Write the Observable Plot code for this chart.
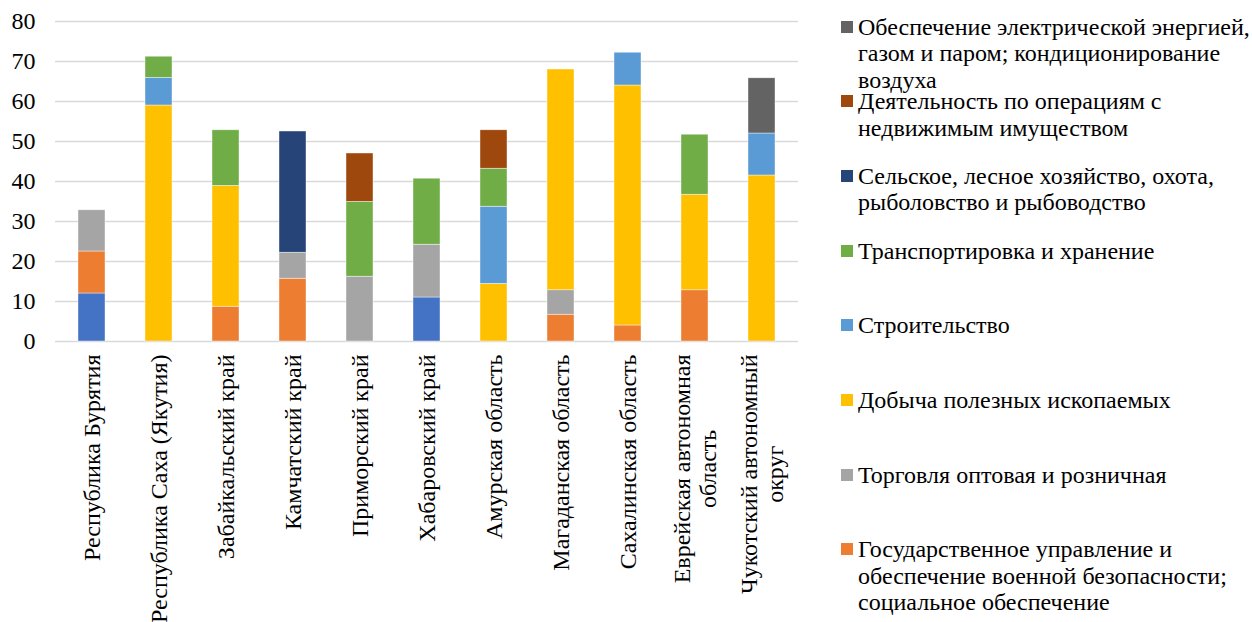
<!DOCTYPE html>
<html>
<head>
<meta charset="utf-8">
<script src="https://cdn.jsdelivr.net/npm/d3@7"></script>
<script src="https://cdn.jsdelivr.net/npm/@observablehq/plot@0.6"></script>
<style>
  html, body { margin: 0; padding: 0; background: #fff; }
  #wrap { position: relative; width: 1252px; height: 622px; overflow: hidden; font-family: "Liberation Serif", "Times New Roman", serif; }
  #chart { position: absolute; left: 0; top: 0; }
  #legend { position: absolute; left: 841px; top: 0; width: 411px; height: 622px; }
  .item { position: absolute; left: 0; display: flex; align-items: flex-start; font-size: 24px; line-height: 26.5px; color: #000; white-space: nowrap; }
  .sw { width: 12px; height: 12px; margin-top: 7px; margin-right: 5px; flex: none; }
</style>
</head>
<body>
<div id="wrap">
  <div id="chart"></div>
  <div id="legend"></div>
</div>
<script>
// Categories (regions), bottom-axis tick labels
const regions = [
  "Республика Бурятия",
  "Республика Саха (Якутия)",
  "Забайкальский край",
  "Камчатский край",
  "Приморский край",
  "Хабаровский край",
  "Амурская область",
  "Магаданская область",
  "Сахалинская область",
  "Еврейская автономная\nобласть",
  "Чукотский автономный\nокруг"
];

// Series, stacked from bottom to top
const series = [
  "Обрабатывающие производства",
  "Государственное управление и обеспечение военной безопасности; социальное обеспечение",
  "Торговля оптовая и розничная",
  "Добыча полезных ископаемых",
  "Строительство",
  "Транспортировка и хранение",
  "Сельское, лесное хозяйство, охота, рыболовство и рыбоводство",
  "Деятельность по операциям с недвижимым имуществом",
  "Обеспечение электрической энергией, газом и паром; кондиционирование воздуха"
];

// Legend labels (as shown, with line breaks), top to bottom
const legendLabels = [
  "Обеспечение электрической энергией,\nгазом и паром; кондиционирование\nвоздуха",
  "Деятельность по операциям с\nнедвижимым имуществом",
  "Сельское, лесное хозяйство, охота,\nрыболовство и рыбоводство",
  "Транспортировка и хранение",
  "Строительство",
  "Добыча полезных ископаемых",
  "Торговля оптовая и розничная",
  "Государственное управление и\nобеспечение военной безопасности;\nсоциальное обеспечение"
];
const legendSeriesIndex = [8, 7, 6, 5, 4, 3, 2, 1];

const colors = ["#4472C4", "#ED7D31", "#A5A5A5", "#FFC000", "#5B9BD5", "#70AD47", "#264478", "#9E480E", "#636363"];

// Values per series, one per region (order as regions)
const manufacturing = [12, 0, 0, 0, 0, 11, 0, 0, 0, 0, 0];
const government    = [10.5, 0, 8.7, 15.7, 0, 0, 0, 6.7, 4, 12.8, 0];
const trade         = [10.3, 0, 0, 6.5, 16.2, 13.2, 0, 6.1, 0, 0, 0];
const mining        = [0, 59, 30.2, 0, 0, 0, 14.4, 55.2, 60, 23.9, 41.5];
const construction  = [0, 6.9, 0, 0, 0, 0, 19.3, 0, 8.2, 0, 10.5];
const transport     = [0, 5.3, 13.9, 0, 18.7, 16.5, 9.5, 0, 0, 15, 0];
const agriculture   = [0, 0, 0, 30.3, 0, 0, 0, 0, 0, 0, 0];
const realEstate    = [0, 0, 0, 0, 12.1, 0, 9.6, 0, 0, 0, 0];
const energy        = [0, 0, 0, 0, 0, 0, 0, 0, 0, 0, 13.8];

const yTicks = [0, 10, 20, 30, 40, 50, 60, 70, 80];

const seriesValues = [manufacturing, government, trade, mining, construction, transport, agriculture, realEstate, energy];

const data = [];
seriesValues.forEach((vals, si) => {
  vals.forEach((v, ri) => {
    if (v > 0) data.push({region: regions[ri], series: series[si], value: v});
  });
});

const serifStack = "'Liberation Serif', 'Times New Roman', serif";

const chart = Plot.plot({
  width: 820,
  height: 622,
  marginTop: 21,
  marginBottom: 281,
  marginLeft: 55,
  marginRight: 22,
  style: {fontFamily: serifStack, fontSize: "24px", color: "#000", background: "#fff", overflow: "visible"},
  x: {domain: regions, paddingInner: 0.6, paddingOuter: 0.3, label: null},
  y: {domain: [0, 80], ticks: yTicks, label: null},
  color: {domain: series, range: colors},
  marks: [
    Plot.gridY(yTicks, {stroke: "#d9d9d9", strokeOpacity: 1, strokeWidth: 1.5}),
    Plot.barY(data, Plot.stackY({order: null}, {
      x: "region", y: "value", z: "series", fill: "series",
      stroke: "#ffffff", strokeWidth: 0.6, strokeOpacity: 0.7
    })),
    Plot.axisY(yTicks, {tickSize: 0, tickPadding: 20, fontSize: 24, label: null}),
    Plot.axisX({tickSize: 0, tickPadding: 13, tickRotate: -90, fontSize: 24, label: null, lineHeight: 1.05})
  ]
});

document.getElementById("chart").appendChild(chart);

// Center multi-line rotated tick labels (lines centered on each other, block ending at axis)
d3.select(chart).selectAll("g[aria-label='x-axis tick label'] text").each(function() {
  const tspans = d3.select(this).selectAll("tspan");
  if (tspans.size() > 1) {
    let w = 0;
    tspans.each(function() { w = Math.max(w, this.getComputedTextLength()); });
    d3.select(this).attr("text-anchor", "middle");
    tspans.attr("x", -w / 2);
  }
});

// Legend
const legend = document.getElementById("legend");
legendLabels.forEach((lab, i) => {
  const item = document.createElement("div");
  item.className = "item";
  item.style.top = (13.5 + i * 74.7) + "px";
  const sw = document.createElement("div");
  sw.className = "sw";
  sw.style.background = colors[legendSeriesIndex[i]];
  const txt = document.createElement("div");
  txt.innerHTML = lab.split("\n").join("<br>");
  item.appendChild(sw);
  item.appendChild(txt);
  legend.appendChild(item);
});
</script>
</body>
</html>
